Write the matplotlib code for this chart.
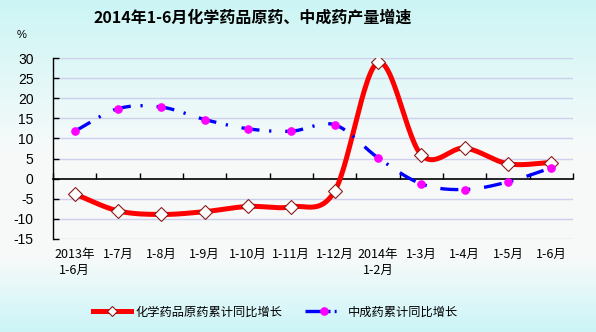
import numpy as np
import matplotlib
matplotlib.use("Agg")
import matplotlib.pyplot as plt
from matplotlib.lines import Line2D
from matplotlib.colors import LinearSegmentedColormap
import matplotlib.transforms as mtransforms

plt.rcParams['font.family'] = ['Noto Sans CJK SC', 'DejaVu Sans']
plt.rcParams['lines.scale_dashes'] = False

title = "2014年1-6月化学药品原药、中成药产量增速"
categories = ["2013年\n1-6月", "1-7月", "1-8月", "1-9月", "1-10月", "1-11月",
              "1-12月", "2014年\n1-2月", "1-3月", "1-4月", "1-5月", "1-6月"]
chem_api = [-3.8, -8.0, -8.9, -8.2, -6.9, -7.0, -3.1, 28.9, 5.9, 7.6, 3.7, 4.0]
tcm = [11.8, 17.4, 17.8, 14.7, 12.4, 11.8, 13.4, 5.2, -1.3, -2.7, -0.8, 2.7]
series_names = ["化学药品原药累计同比增长", "中成药累计同比增长"]
y_ticks = [-15, -10, -5, 0, 5, 10, 15, 20, 25, 30]


def smooth(xs, ys, n=30):
    """Catmull-Rom curve through the points, as used for smoothed line charts."""
    xs = np.asarray(xs, float)
    ys = np.asarray(ys, float)
    px = np.concatenate([[2 * xs[0] - xs[1]], xs, [2 * xs[-1] - xs[-2]]])
    py = np.concatenate([[2 * ys[0] - ys[1]], ys, [2 * ys[-1] - ys[-2]]])
    outx, outy = [], []
    t = np.linspace(0, 1, n)
    for i in range(1, len(px) - 2):
        for arr, out in ((px, outx), (py, outy)):
            p0, p1, p2, p3 = arr[i - 1], arr[i], arr[i + 1], arr[i + 2]
            seg = 0.5 * ((2 * p1) + (-p0 + p2) * t +
                         (2 * p0 - 5 * p1 + 4 * p2 - p3) * t ** 2 +
                         (-p0 + 3 * p1 - 3 * p2 + p3) * t ** 3)
            out.extend(seg if i == 1 else seg[1:])
    return np.array(outx), np.array(outy)


W, H = 596, 332
fig = plt.figure(figsize=(W / 100, H / 100), dpi=100)

# soft cyan-to-white vertical background
bg = fig.add_axes([0, 0, 1, 1], zorder=-10)
bg.axis('off')
cmap = LinearSegmentedColormap.from_list(
    "bgfade",
    [(0.0, (0.80, 0.96, 0.96)),
     (0.45, (0.97, 0.98, 0.98)),
     (0.78, (0.97, 0.98, 0.98)),
     (1.0, (0.80, 0.96, 0.97))])
bg.imshow(np.linspace(0, 1, 256).reshape(-1, 1), aspect='auto', cmap=cmap,
          extent=[0, 1, 0, 1])

left, right, top, bottom = 53, 573, 58, 239
ax = fig.add_axes([left / W, 1 - bottom / H, (right - left) / W, (bottom - top) / H])
ax.patch.set_alpha(0)

x = np.arange(len(categories))
ax.set_xlim(-0.5, len(categories) - 0.5)
ax.set_ylim(-15, 30)

for v in y_ticks:
    if v != 0:
        ax.axhline(v, color='#ccd0ec', lw=1, zorder=0)

for s in ('top', 'right'):
    ax.spines[s].set_visible(False)
ax.spines['left'].set_linewidth(1)
ax.spines['bottom'].set_position(('data', 0))
ax.spines['bottom'].set_linewidth(1.2)
ax.spines['bottom'].set_zorder(1)

ax.set_yticks(y_ticks)
ax.set_yticklabels([str(v) for v in y_ticks], family='Liberation Sans', fontsize=10)
ax.tick_params(axis='y', direction='in', length=4, width=1, pad=14)
ax.set_xticks(np.arange(len(categories) + 1) - 0.5)
ax.set_xticklabels([])
ax.tick_params(axis='x', direction='in', length=4, width=1)

trans = mtransforms.blended_transform_factory(ax.transData, ax.transAxes)
for xi, lab in zip(x, categories):
    ax.text(xi, -0.05, lab, transform=trans, ha='center', va='top',
            fontsize=9, linespacing=1.25)

# chemical API series
sx, sy = smooth(x, chem_api)
ax.plot(sx, sy, color='#ff0000', lw=3.6, solid_capstyle='round', zorder=3)
ax.plot(x, chem_api, ls='none', marker='D', ms=7, mfc='white',
        mec='#8b1a1a', mew=0.8, zorder=4)

# traditional Chinese medicine series
tx, ty = smooth(x, tcm)
ax.plot(tx, ty, color='#0000ff', lw=2.4, ls=(0, (13, 7, 1.6, 10)),
        dash_capstyle='butt', zorder=3)
ax.plot(x, tcm, ls='none', marker='o', ms=5.2, mfc='#ff00ff', mec='#ff00ff', zorder=4)

fig.text(253 / W, 1 - 18 / H, title, ha='center', va='center',
         fontsize=11.5, fontweight='bold')
fig.text(22 / W, 1 - 35 / H, "%", ha='center', va='center',
         family='Liberation Sans', fontsize=8)

handles = [
    Line2D([], [], color='#ff0000', lw=3.6, marker='D', ms=5, mfc='white',
           mec='#8b1a1a', mew=0.8),
    Line2D([], [], color='#0000ff', lw=2.4, ls=(0, (18, 3, 1.4, 40)),
           dash_capstyle='butt', marker='o', ms=5.2, mfc='#ff00ff', mec='#ff00ff'),
]
fig.legend(handles, series_names, loc='center', ncol=2,
           bbox_to_anchor=(0.462, 1 - 312 / H), frameon=False,
           fontsize=8.8, handlelength=3.1, handletextpad=0.35,
           columnspacing=1.9)

fig.savefig("out.png", dpi=100)
